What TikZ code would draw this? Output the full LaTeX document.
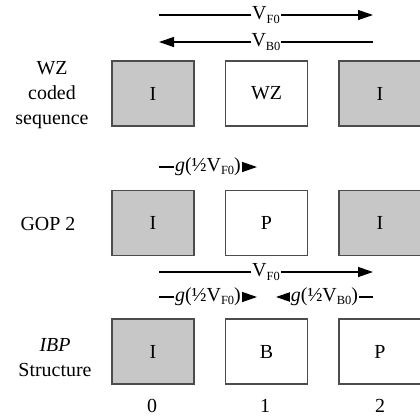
\documentclass[tikz,border=0pt]{standalone}
\usepackage{fontspec}
\setmainfont{Liberation Serif}
\usetikzlibrary{arrows.meta}
\newcommand\lowsub[1]{\raisebox{-0.35ex}{\fontsize{12.5}{12.5}\selectfont #1}}
\begin{document}
\begin{tikzpicture}[x=1bp,y=-1bp,
  frame/.style={draw=black!70, line width=1.3bp, minimum width=82bp, minimum height=65bp, inner sep=0pt, font=\fontsize{20}{24}\selectfont},
  iframe/.style={frame, fill=black!22},
  pframe/.style={frame, fill=white},
  arr/.style={line width=1.3bp, -{Triangle[length=15bp,width=10bp]}},
  lbl/.style={fill=white, inner sep=1bp, font=\fontsize{20}{24}\selectfont},
  side/.style={align=center, font=\fontsize{20}{25}\selectfont, anchor=base},
  txt/.style={font=\fontsize{20}{24}\selectfont, anchor=base}]
\useasboundingbox (0,0) rectangle (420,420);
% top arrows
\coordinate (a1s) at (159,15);
\coordinate (a1e) at (373,15);
\coordinate (a2s) at (373,42);
\coordinate (a2e) at (159,42);
\draw[arr] (a1s) -- node[lbl] (t1) {V\lowsub{F0}} (a1e);
\draw[arr] (a2s) -- node[lbl] (t2) {V\lowsub{B0}} (a2e);
% row 1
\node[side] (lab1) at (52,124) {WZ\\coded\\sequence};
\node[iframe] (r1a) at (153,93.5) {I};
\node[pframe] (r1b) at (266.5,93.5) {WZ};
\node[iframe] (r1c) at (380,93.5) {I};
% row 2
\coordinate (g1s) at (159,167);
\coordinate (g1e) at (257,167);
\draw[arr] (g1s) -- node[lbl] (t3) {\textit{g}(½V\lowsub{F0})} (g1e);
\node[txt] (lab2) at (48,230) {GOP 2};
\node[iframe] (r2a) at (153,223) {I};
\node[pframe] (r2b) at (266.5,223) {P};
\node[iframe] (r2c) at (380,223) {I};
% row 3
\coordinate (a3s) at (159,272);
\coordinate (a3e) at (373,272);
\draw[arr] (a3s) -- node[lbl] (t4) {V\lowsub{F0}} (a3e);
\coordinate (g2s) at (159,297);
\coordinate (g2e) at (257,297);
\draw[arr] (g2s) -- node[lbl] (t5) {\textit{g}(½V\lowsub{F0})} (g2e);
\coordinate (g3s) at (373,297);
\coordinate (g3e) at (276,297);
\draw[arr] (g3s) -- node[lbl] (t6) {\textit{g}(½V\lowsub{B0})} (g3e);
\node[side] (lab3) at (55,376) {\textit{IBP}\\Structure};
\node[iframe] (r3a) at (153,351.5) {I};
\node[pframe] (r3b) at (266.5,351.5) {B};
\node[pframe] (r3c) at (380,351.5) {P};
% indices
\node[txt] (n0) at (152,412) {0};
\node[txt] (n1) at (265,412) {1};
\node[txt] (n2) at (380,412) {2};
\end{tikzpicture}
\end{document}
